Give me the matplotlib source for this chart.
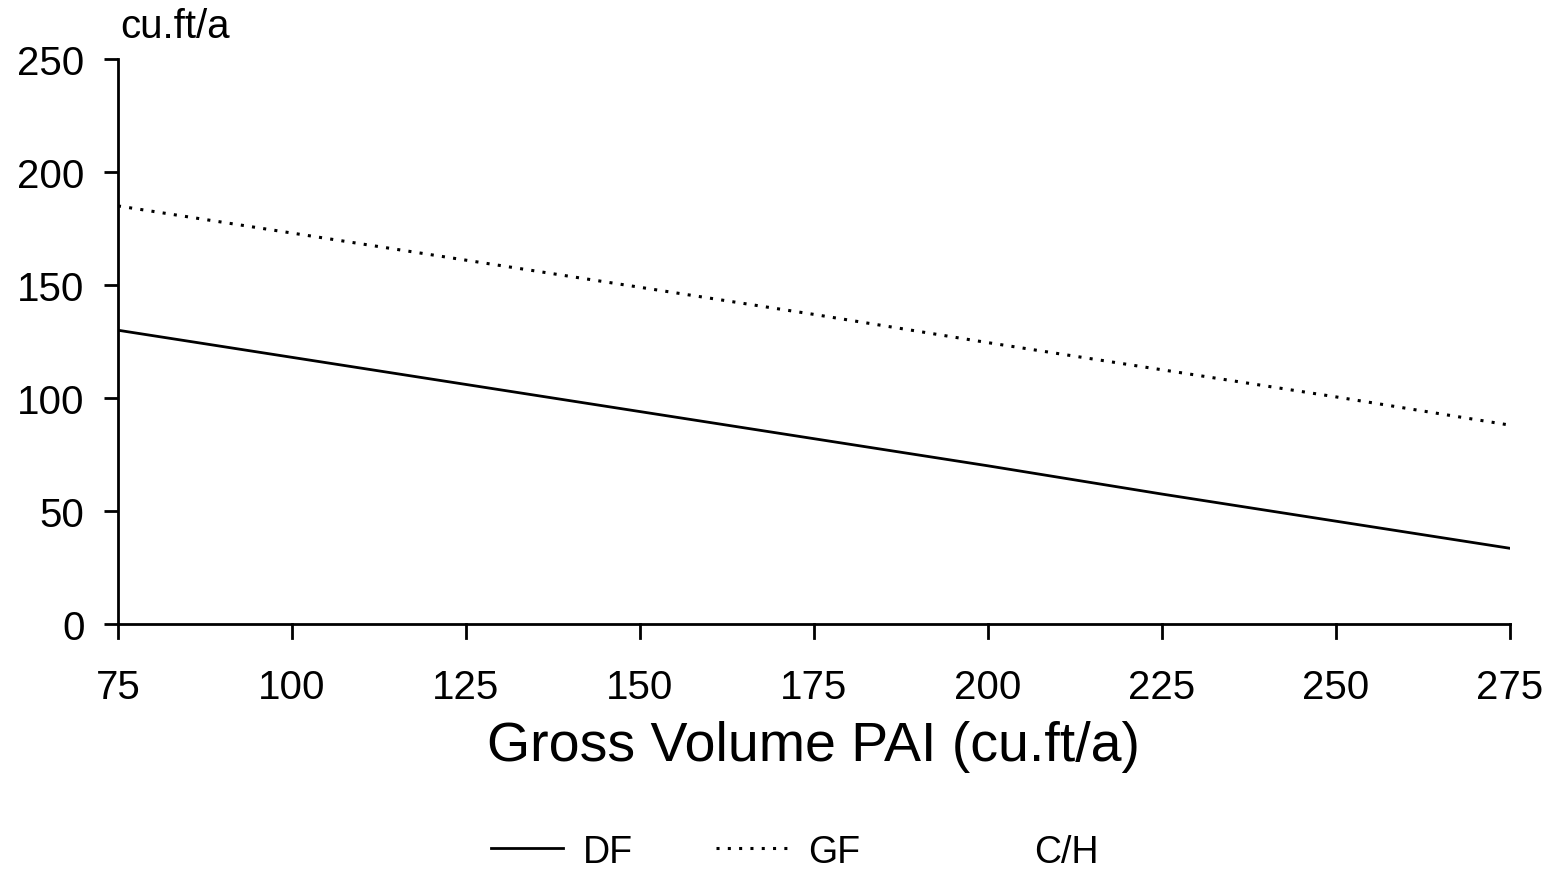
import numpy as np
import matplotlib.pyplot as plt

plt.rcParams['font.family'] = ['Liberation Sans', 'DejaVu Sans']

# values
gross_pai = [75, 100, 125, 150, 175, 200, 225, 250, 275]
df_vals = [130, 118, 106, 94, 82, 70, 57.5, 45.5, 33.5]
gf_vals = [185, 173, 161, 149, 137, 124.5, 112.5, 100.5, 88]
ch_vals = [np.nan] * len(gross_pai)  # C/H has no drawn line

fig = plt.figure(figsize=(15.56, 8.7), dpi=100)
ax = fig.add_axes([0.0758, 0.2816, 0.8946, 0.6494])

ax.plot(gross_pai, df_vals, color='black', lw=2.0, label='DF')
ax.plot(gross_pai, gf_vals, color='black', lw=2.2, linestyle=(0, (1.0, 2.7)), label='GF')
ax.plot(gross_pai, ch_vals, color='white', lw=2.0, label='C/H')

ax.set_xlim(75, 275)
ax.set_ylim(0, 250)
ax.set_xticks(gross_pai)
ax.set_yticks([0, 50, 100, 150, 200, 250])

ax.spines['top'].set_visible(False)
ax.spines['right'].set_visible(False)
for s in ['left', 'bottom']:
    ax.spines[s].set_linewidth(2.0)

ax.tick_params(axis='y', direction='out', length=10, width=2.0, pad=14, labelsize=29)
ax.tick_params(axis='x', direction='in', length=0, pad=32, labelsize=29)
# x ticks hang below the axis
for x in gross_pai:
    ax.plot([x, x], [0, -6], color='black', lw=2.0, clip_on=False)

ax.set_xlabel('Gross Volume PAI (cu.ft/a)', fontsize=40, labelpad=10)
ax.text(0.002, 1.025, 'cu.ft/a', transform=ax.transAxes, fontsize=29,
        ha='left', va='bottom')

handles, labels = ax.get_legend_handles_labels()
fig.legend(handles, labels, loc='center', bbox_to_anchor=(0.511, 0.02),
           ncol=3, frameon=False, fontsize=27, handlelength=1.9,
           handletextpad=0.55, columnspacing=2.2)

fig.savefig('out.png', dpi=100)
